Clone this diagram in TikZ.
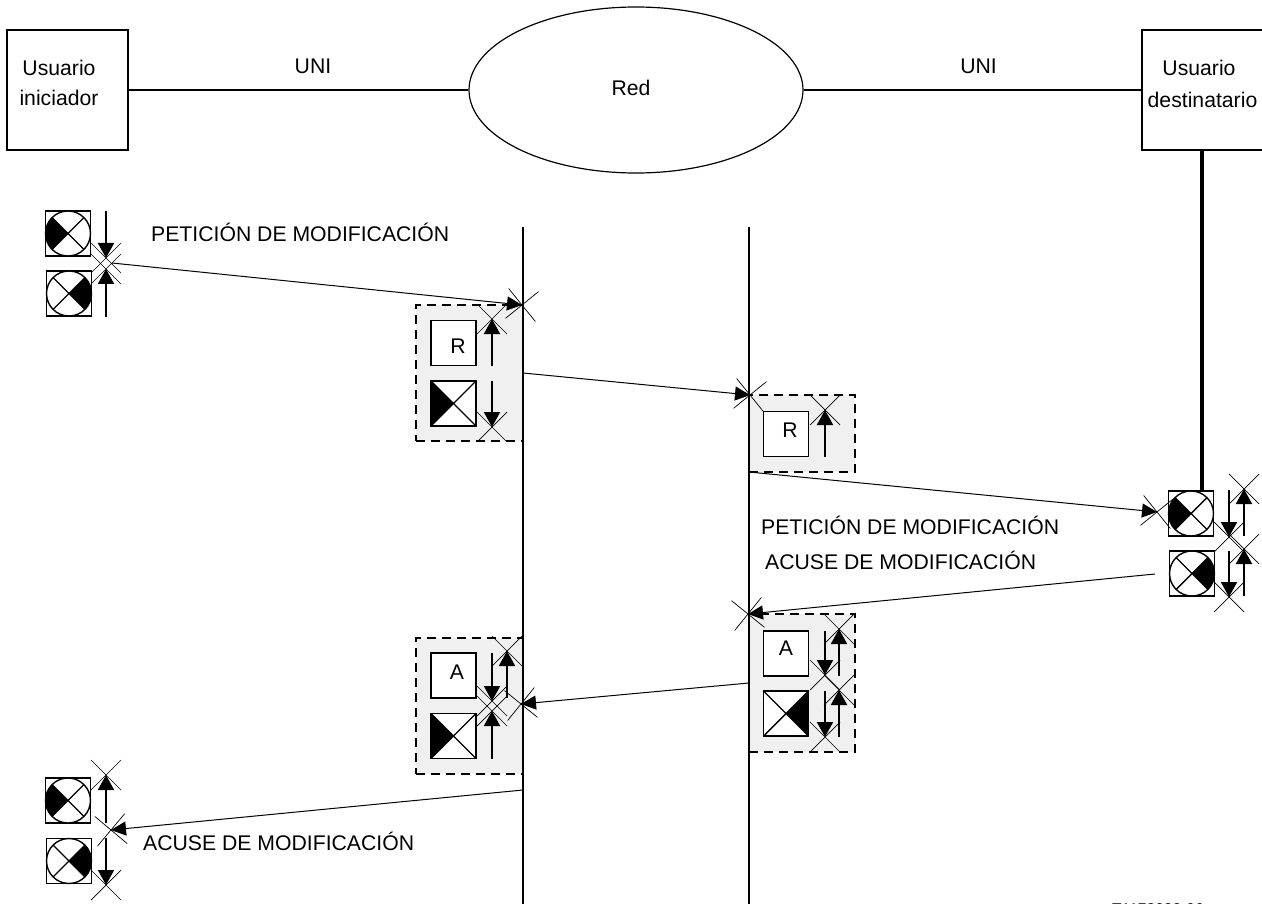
\documentclass[tikz,border=0pt]{standalone}
\usepackage{fontspec}
\setmainfont{Liberation Sans}
\usetikzlibrary{arrows.meta}
\usetikzlibrary{shapes.geometric}
\usetikzlibrary{shapes.misc}
\tikzset{
  lbl/.style={font=\fontsize{21.2}{24}\selectfont, inner sep=0},
  party/.style={draw, line width=1.2pt, inner sep=0, align=center},
  panel/.style={fill=black!6, draw, dashed, dash pattern=on 9pt off 6pt, line width=1.6pt, inner sep=0},
  lamp/.style={draw, line width=1.2pt, minimum size=45, inner sep=0, outer sep=0, fill=white},
  ring/.style={lamp, circle, line width=1.4pt},
  fillleft/.style={path picture={
    \fill[black] (path picture bounding box.center) -- (path picture bounding box.north west) -- (path picture bounding box.south west) -- cycle;
    \draw[line width=1.4pt] (path picture bounding box.north west) -- (path picture bounding box.south east) (path picture bounding box.north east) -- (path picture bounding box.south west);}},
  fillright/.style={path picture={
    \fill[black] (path picture bounding box.center) -- (path picture bounding box.north east) -- (path picture bounding box.south east) -- cycle;
    \draw[line width=1.4pt] (path picture bounding box.north west) -- (path picture bounding box.south east) (path picture bounding box.north east) -- (path picture bounding box.south west);}},
  crossmark/.style={cross out, draw, line width=.7pt, minimum size=30, inner sep=0, outer sep=0},
  sigarrow/.style={line width=2pt, -{Triangle[length=15pt,width=16pt]}},
  msg/.style={line width=1pt, -{Triangle[length=15pt,width=14pt]}},
}
\begin{document}
\begin{tikzpicture} [x=1pt, y=-1pt]
\useasboundingbox (0,0) rectangle (1262,904);

\node[panel, minimum width=107, minimum height=136] (panelR) at (469.5,373) {};
\node[panel, minimum width=106, minimum height=77] (panelRb) at (802,433.5) {};
\node[panel, minimum width=106, minimum height=138] (panelAb) at (802,683) {};
\node[panel, minimum width=107, minimum height=136] (panelA) at (469.5,706) {};

\node[party, minimum width=121, minimum height=120] (init) at (67.5,90) {};
\node[party, minimum width=130, minimum height=120] (dest) at (1207,90) {};
\node[draw, ellipse, line width=1.2pt, minimum width=334, minimum height=166, inner sep=0] (net) at (636,90) {};
\node[lbl] (initA) at (59,68) {Usuario};
\node[lbl] (initB) at (59,98) {iniciador};
\node[lbl] (destA) at (1199,68) {Usuario};
\node[lbl] (destB) at (1202.5,100) {destinatario};
\node[lbl] (netL) at (631,88) {Red};
\node[lbl] (uniA) at (313,66) {UNI};
\node[lbl] (uniB) at (978.5,66) {UNI};
\draw[line width=1.8pt] (init) -- (net);
\draw[line width=1.8pt] (net) -- (dest);

\coordinate (netAt) at (523,227); \coordinate (netAb) at (523,904);
\coordinate (netBt) at (749,227); \coordinate (netBb) at (749,904);
\coordinate (destD) at (1202,150); \coordinate (destE) at (1202,491);
\draw[line width=2pt] (netAt) -- (netAb);
\draw[line width=2pt] (netBt) -- (netBb);
\draw[line width=3.5pt] (destD) -- (destE);

\foreach \x/\y/\s [count=\i] in {68/233.5/fillleft, 69/293.5/fillright, 1191/513.5/fillleft, 1192/573.5/fillright, 68/800.5/fillleft, 69/861/fillright} {
  \node[lamp] (lampbox\i) at (\x,\y) {};
  \node[ring, \s] (lamp\i) at (\x,\y) {};
}

\node[lamp] (boxR) at (453.5,343) {};
\node[lbl] (boxRl) at (458,346) {R};
\node[lamp, fillleft] (boxRq) at (453.5,403.5) {};
\node[lamp] (boxRb) at (786,434) {};
\node[lbl] (boxRbl) at (790,430) {R};
\node[lamp] (boxAb) at (786,653.5) {};
\node[lbl] (boxAbl) at (786,648) {A};
\node[lamp, fillright] (boxAq) at (786,713.5) {};
\node[lamp] (boxA) at (453.5,675.5) {};
\node[lbl] (boxAl) at (457,672) {A};
\node[lamp, fillleft] (boxAp) at (453.5,736) {};

\foreach \x/\from/\to [count=\i] in {106/211/258, 106/317/269, 492/366/319, 492/381/427, 825/457/410, 1229/490/537, 1244/536/489, 1229/551/597, 1244/596/549, 825/631/675, 839/676/629, 825/691/737, 839/737/690, 492/653/701, 492/759/711, 507/698/651, 106/823/775, 106/838/885} {
  \node[crossmark] (tick\i) at (\x,\to) {};
  \coordinate (tail\i) at (\x,\from);
  \draw[sigarrow] (tail\i) -- (tick\i.center);
}

\foreach \name/\x/\y/\r in {tipA/522/305/-6, tipB/750/395/-6, tipC/1157/512/-6, tipD/748/614/6, tipE/521/704/6, tipF/111/830/5} \node[crossmark, rotate=\r] (\name) at (\x,\y) {};

\coordinate (fromA) at (112,263);
\coordinate (fromB) at (523,373);
\coordinate (fromC) at (749,472);
\coordinate (fromD) at (1155,574);
\coordinate (fromE) at (749,683);
\coordinate (fromF) at (523,790);
\draw[msg] (fromA) -- (tipA.center);
\draw[msg] (fromB) -- (tipB.center);
\draw[msg] (fromC) -- (tipC.center);
\draw[msg] (fromD) -- (tipD.center);
\draw[msg] (fromE) -- (tipE.center);
\draw[msg] (fromF) -- (tipF.center);

\node[lbl, anchor=west] (reqA) at (151,232.5) {PETICIÓN DE MODIFICACIÓN};
\node[lbl, anchor=west] (reqB) at (761,525.5) {PETICIÓN DE MODIFICACIÓN};
\node[lbl, anchor=west] (ackA) at (765,560.5) {ACUSE DE MODIFICACIÓN};
\node[lbl, anchor=west] (ackB) at (143,841.5) {ACUSE DE MODIFICACIÓN};
\node[inner sep=0, anchor=north west, font=\fontsize{15.6}{16}\selectfont] (code) at (1112,903) {T1173030-96};
\end{tikzpicture}
\end{document}
